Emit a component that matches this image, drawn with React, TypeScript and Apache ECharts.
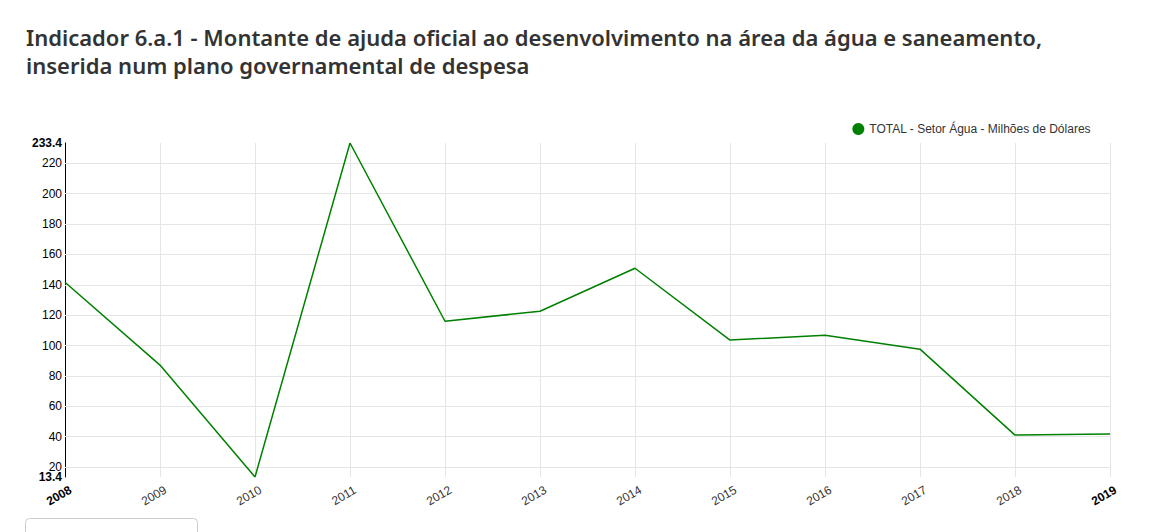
import React, { useEffect, useRef } from "react";
import * as echarts from "echarts";

const years = ["2008", "2009", "2010", "2011", "2012", "2013", "2014", "2015", "2016", "2017", "2018", "2019"];
const values = [141.7, 87.1, 13.4, 233.4, 116.0, 122.6, 150.9, 103.6, 106.8, 97.6, 41.0, 41.7];
const yGridTicks = [20, 40, 60, 80, 100, 120, 140, 160, 180, 200, 220];
const yMin = 13.4;
const yMax = 233.4;
const seriesName = "TOTAL - Setor Água - Milhões de Dólares";
const titleText =
  "Indicador 6.a.1 - Montante de ajuda oficial ao desenvolvimento na área da água e saneamento,\ninserida num plano governamental de despesa";

export default function App() {
  const ref = useRef<HTMLDivElement>(null);
  useEffect(() => {
    document.body.style.margin = "0";
    const chart = echarts.init(ref.current!, null, { renderer: "svg" });
    const labelRich = {
      b: { fontWeight: "bold", color: "#000", fontFamily: "Liberation Sans", fontSize: 12 },
    };
    const yFormatter = (v: number) => (v === yMin || v === yMax ? `{b|${v}}` : `${v}`);
    chart.setOption({
      animation: false,
      backgroundColor: "#fff",
      title: {
        text: titleText,
        left: 21,
        top: 18,
        textStyle: {
          fontFamily: "Noto Sans",
          fontSize: 22,
          fontWeight: 600,
          color: "#333",
          lineHeight: 28,
        },
      },
      legend: {
        right: 68,
        top: 118,
        icon: "circle",
        itemWidth: 12,
        itemHeight: 12,
        itemGap: 4,
        textStyle: { fontFamily: "Liberation Sans", fontSize: 12, color: "#333" },
        data: [seriesName],
      },
      grid: { left: 65, right: 54, top: 143, bottom: 55, containLabel: false },
      xAxis: {
        type: "category",
        data: years,
        boundaryGap: false,
        axisLine: { show: false },
        axisTick: { show: false },
        splitLine: { show: true, lineStyle: { color: "#e5e5e5", width: 1 } },
        axisLabel: {
          rotate: 30,
          margin: 15,
          align: "center",
          padding: [0, 14, 0, 0],
          fontFamily: "Liberation Sans",
          fontSize: 12,
          color: "#333",
          interval: 0,
          formatter: (v: string, i: number) =>
            i === 0 || i === years.length - 1 ? `{b|${v}}` : v,
          rich: labelRich,
        },
      },
      yAxis: [
        {
          type: "value",
          min: yMin,
          max: yMax,
          axisLine: { show: true, lineStyle: { color: "#000", width: 1 } },
          axisTick: { show: false },
          splitLine: { show: false },
          axisLabel: {
            customValues: [...yGridTicks, yMax],
            showMaxLabel: true,
            margin: 3,
            fontFamily: "Liberation Sans",
            fontSize: 12,
            color: "#000",
            formatter: yFormatter,
            rich: labelRich,
          },
        },
        {
          type: "value",
          position: "left",
          min: yMin,
          max: yMax,
          axisLine: { show: false },
          axisTick: { show: false },
          splitLine: { show: false },
          axisLabel: {
            customValues: [yMin],
            showMinLabel: true,
            margin: 3,
            fontFamily: "Liberation Sans",
            fontSize: 12,
            color: "#000",
            formatter: yFormatter,
            rich: labelRich,
          },
        },
      ],
      graphic: [
        {
          type: "rect",
          left: 25,
          top: 518,
          shape: { width: 172, height: 30, r: 4 },
          style: { fill: "#fff", stroke: "#ccc", lineWidth: 1 },
        },
      ],
      series: [
        {
          name: "grid",
          type: "line",
          data: [],
          silent: true,
          z: 1,
          markLine: {
            silent: true,
            symbol: "none",
            label: { show: false },
            lineStyle: { color: "#e5e5e5", width: 1, type: "solid" },
            data: yGridTicks.map((t) => ({ yAxis: t })),
            z: 1,
          },
        },
        {
          name: seriesName,
          type: "line",
          data: values,
          showSymbol: false,
          symbol: "none",
          itemStyle: { color: "#008000" },
          lineStyle: { color: "#008000", width: 1.5 },
          z: 5,
        },
      ],
    });
    return () => chart.dispose();
  }, []);
  return <div ref={ref} style={{ width: 1164, height: 532 }} />;
}
